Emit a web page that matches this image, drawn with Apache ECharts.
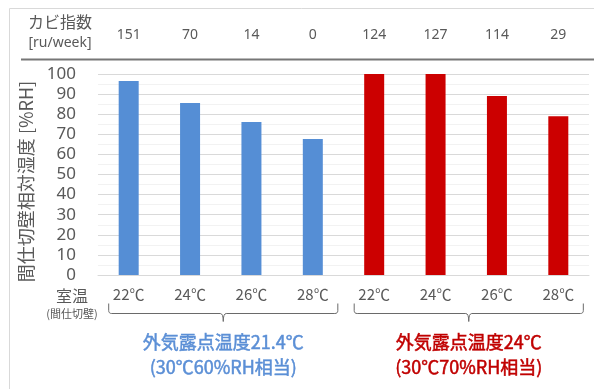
<!DOCTYPE html>
<html>
<head>
<meta charset="utf-8">
<script src="https://cdn.jsdelivr.net/npm/echarts@6/dist/echarts.min.js"></script>
<style>
  html, body { margin: 0; padding: 0; background: #fff; }
  #chart { width: 594px; height: 389px; }
</style>
</head>
<body>
<div id="chart"></div>
<script>
// Room temperature of the partition wall (x categories)
const roomTemps = ['22℃', '24℃', '26℃', '28℃', '22℃', '24℃', '26℃', '28℃'];
// Mold index [ru/week] for each case
const moldIndex = ['151', '70', '14', '0', '124', '127', '114', '29'];
// Partition wall relative humidity [%RH]
const wallRH = [96.5, 85.6, 76.1, 67.7, 100, 100, 89, 79];
// Outdoor dew point group of each case (0: 21.4℃, 1: 24℃)
const groupOf = [0, 0, 0, 0, 1, 1, 1, 1];
const groupColors = ['#558ED5', '#CC0000'];
const groupTextColors = ['#5B8FD6', '#C00000'];
const groupLabels = [
  ['外気露点温度21.4℃', '(30℃60%RH相当)'],
  ['外気露点温度24℃', '(30℃70%RH相当)']
];

const FONT = "'Noto Sans', 'Noto Sans CJK JP', sans-serif";
const CJK = "'Noto Sans CJK JP', 'Noto Sans', sans-serif";
const GRAY = '#595959';

const chart = echarts.init(document.getElementById('chart'), null, { renderer: 'canvas' });

chart.setOption({
  animation: false,
  textStyle: { fontFamily: FONT },
  grid: { left: 98, right: 5, top: 74, bottom: 114 },
  xAxis: [
    {
      type: 'category',
      data: roomTemps,
      axisLine: { lineStyle: { color: '#d9d9d9' } },
      axisTick: { show: false },
      axisLabel: { color: GRAY, fontSize: 15, margin: 12, fontFamily: CJK }
    },
    {
      type: 'category',
      position: 'top',
      data: moldIndex,
      axisLine: { show: false },
      axisTick: { show: false },
      axisLabel: { color: GRAY, fontSize: 14, margin: 32, fontFamily: FONT }
    }
  ],
  yAxis: {
    type: 'value',
    min: 0,
    max: 100,
    interval: 10,
    name: '間仕切壁相対湿度 [%RH]',
    nameLocation: 'middle',
    nameRotate: 90,
    nameGap: 63,
    nameTextStyle: { color: GRAY, fontSize: 18, fontFamily: CJK, padding: [0, 14, 0, 0] },
    axisLine: { show: false },
    axisTick: { show: false },
    axisLabel: { color: GRAY, fontSize: 17, margin: 22, fontFamily: FONT },
    splitLine: { lineStyle: { color: '#d9d9d9', width: 1 } },
    minorTick: { show: false, splitNumber: 2 },
    minorSplitLine: { show: true, lineStyle: { color: '#f2f2f2', width: 1 } }
  },
  series: [{
    type: 'bar',
    barWidth: 20,
    xAxisIndex: 0,
    data: wallRH.map((v, i) => ({ value: v, itemStyle: { color: groupColors[groupOf[i]] } }))
  }]
});

// quadratic curve sampled into polyline points
function quad(p0, c, p1, n) {
  const pts = [];
  for (let k = 1; k <= n; k++) {
    const t = k / n;
    pts.push([
      (1 - t) * (1 - t) * p0[0] + 2 * (1 - t) * t * c[0] + t * t * p1[0],
      (1 - t) * (1 - t) * p0[1] + 2 * (1 - t) * t * c[1] + t * t * p1[1]
    ]);
  }
  return pts;
}

// Decorations placed from the chart's own coordinate system
function drawDecorations() {
  const px = i => chart.convertToPixel({ xAxisIndex: 0 }, i);
  const yZero = chart.convertToPixel({ yAxisIndex: 0 }, 0);
  const graphics = [];

  // light frame around the figure
  graphics.push({ type: 'polyline', shape: { points: [[9.5, 389], [9.5, 8.5], [594, 8.5]] },
    style: { stroke: '#d9d9d9', lineWidth: 1, fill: null }, silent: true });

  // header row: mold index
  graphics.push({ type: 'text', x: 60, y: 22, style: { text: 'カビ指数', fontSize: 16, fill: GRAY,
    fontFamily: CJK, align: 'center', verticalAlign: 'middle' } });
  graphics.push({ type: 'text', x: 60, y: 43, style: { text: '[ru/week]', fontSize: 14, fill: GRAY,
    fontFamily: FONT, align: 'center', verticalAlign: 'middle' } });
  graphics.push({ type: 'line', shape: { x1: 21, y1: 59.5, x2: 594, y2: 59.5 },
    style: { stroke: '#767676', lineWidth: 2 } });

  // x-axis caption
  graphics.push({ type: 'text', x: 72, y: yZero + 21, style: { text: '室温', fontSize: 16, fill: GRAY,
    fontFamily: CJK, align: 'center', verticalAlign: 'middle' } });
  graphics.push({ type: 'text', x: 72, y: yZero + 39, style: { text: '(間仕切壁)', fontSize: 11, fill: GRAY,
    fontFamily: CJK, align: 'center', verticalAlign: 'middle' } });

  // braces under each group with their captions
  [0, 1].forEach(g => {
    const idx = groupOf.map((v, i) => v === g ? i : -1).filter(i => i >= 0);
    const x1 = px(idx[0]) - 20;
    const x2 = px(idx[idx.length - 1]) + 25;
    const xm = (x1 + x2) / 2;
    const yb = yZero + 38.5;
    const r = 3;
    let pts = [[x1, yb - 10], [x1, yb - r]];
    pts = pts.concat(quad([x1, yb - r], [x1, yb], [x1 + r, yb], 4));
    pts.push([xm - 3, yb]);
    pts = pts.concat(quad([xm - 3, yb], [xm, yb], [xm, yb + 8], 4));
    pts = pts.concat(quad([xm, yb + 8], [xm, yb], [xm + 3, yb], 4));
    pts.push([x2 - r, yb]);
    pts = pts.concat(quad([x2 - r, yb], [x2, yb], [x2, yb - r], 4));
    pts.push([x2, yb - 10]);
    graphics.push({ type: 'polyline', shape: { points: pts },
      style: { stroke: '#6a6a6a', lineWidth: 1, fill: null } });
    [0, 1].forEach(line => {
      graphics.push({ type: 'text', x: xm, y: yZero + 67 + line * 25, style: {
        text: groupLabels[g][line], fontSize: 18, fontWeight: 'normal',
        fill: groupTextColors[g], stroke: groupTextColors[g], lineWidth: 0.5,
        fontFamily: CJK, align: 'center', verticalAlign: 'middle' } });
    });
  });

  chart.setOption({ graphic: graphics });
}
drawDecorations();
</script>
</body>
</html>
